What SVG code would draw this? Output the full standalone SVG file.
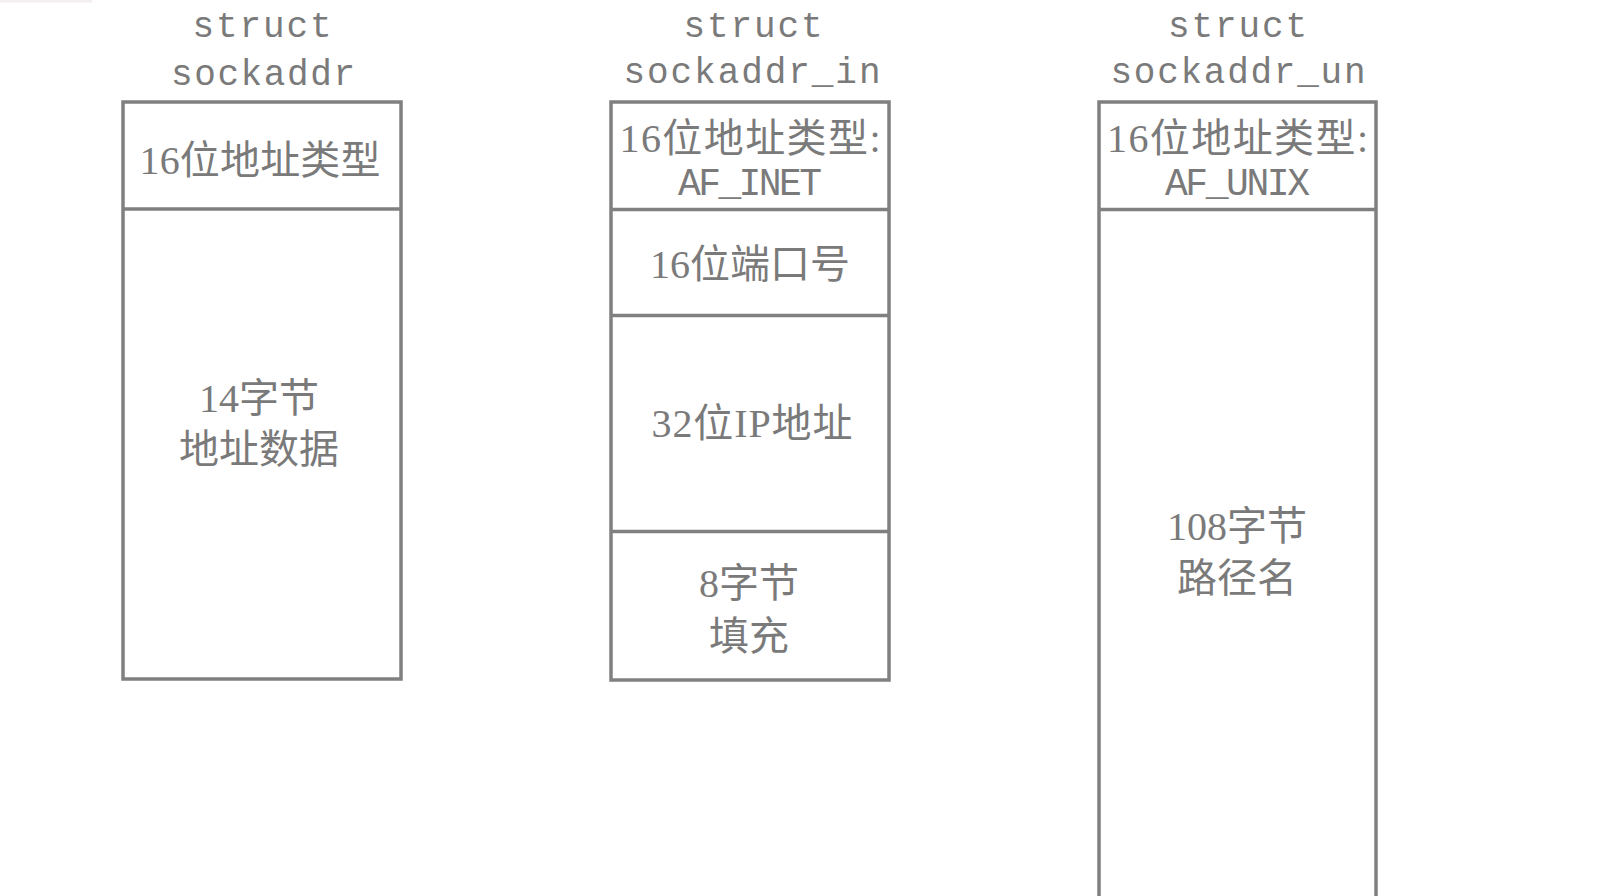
<svg xmlns="http://www.w3.org/2000/svg" width="1606" height="896" viewBox="0 0 1606 896">
<style>
.box{fill:#fff;stroke:#808080;stroke-width:3.5}
.div{stroke:#808080;stroke-width:3.5}
.t{font-family:"Liberation Serif","Noto Sans CJK SC",serif;font-size:40px;fill:#7a7a7a;text-anchor:middle}
.m{font-family:"Liberation Mono","Noto Sans CJK SC",monospace;font-size:38px;fill:#7a7a7a;text-anchor:middle}
.h{font-family:"Liberation Mono","Noto Sans CJK SC",monospace;font-size:36px;fill:#7a7a7a;text-anchor:middle}
</style>
<rect x="0" y="0" width="1606" height="896" fill="#fff"/>
<rect x="0" y="0" width="92" height="2.5" fill="#f4eeee"/>
<g id="sockaddr">
<text class="h" x="262" y="37" textLength="139" lengthAdjust="spacing">struct</text>
<text class="h" x="263" y="85" textLength="184" lengthAdjust="spacing">sockaddr</text>
<rect class="box" x="123" y="102" width="278" height="577"/>
<line class="div" x1="123" y1="209" x2="401" y2="209"/>
<text class="t" x="260" y="174" textLength="241" lengthAdjust="spacing">16位地址类型</text>
<text class="t" x="259" y="412">14字节</text>
<text class="t" x="259" y="463">地址数据</text>
</g>
<g id="sockaddr_in">
<text class="h" x="753" y="37" textLength="139" lengthAdjust="spacing">struct</text>
<text class="h" x="752" y="83" textLength="257" lengthAdjust="spacing">sockaddr_in</text>
<rect class="box" x="611" y="102" width="278" height="578"/>
<line class="div" x1="611" y1="209.5" x2="889" y2="209.5"/>
<line class="div" x1="611" y1="315.5" x2="889" y2="315.5"/>
<line class="div" x1="611" y1="531.5" x2="889" y2="531.5"/>
<text class="t" x="750" y="152" textLength="261" lengthAdjust="spacing">16位地址类型:</text>
<text class="m" x="750" y="195" textLength="144" lengthAdjust="spacing">AF_INET</text>
<text class="t" x="750" y="278">16位端口号</text>
<text class="t" x="752" y="437" textLength="201" lengthAdjust="spacing">32位IP地址</text>
<text class="t" x="749" y="597">8字节</text>
<text class="t" x="749" y="650">填充</text>
</g>
<g id="sockaddr_un">
<text class="h" x="1237.5" y="37" textLength="139" lengthAdjust="spacing">struct</text>
<text class="h" x="1238" y="83" textLength="255" lengthAdjust="spacing">sockaddr_un</text>
<rect class="box" x="1099" y="102" width="277" height="820"/>
<line class="div" x1="1099" y1="209.5" x2="1376" y2="209.5"/>
<text class="t" x="1237.5" y="152" textLength="261" lengthAdjust="spacing">16位地址类型:</text>
<text class="m" x="1237.5" y="195" textLength="145" lengthAdjust="spacing">AF_UNIX</text>
<text class="t" x="1237" y="540">108字节</text>
<text class="t" x="1237" y="592">路径名</text>
</g>
<g id="connectors"/>
</svg>
